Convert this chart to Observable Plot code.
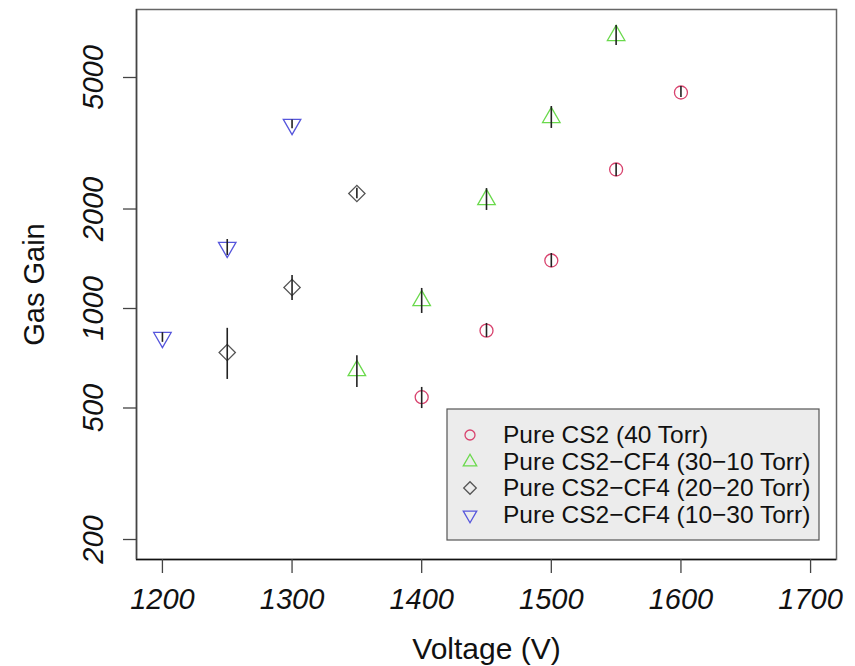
<!DOCTYPE html>
<html>
<head>
<meta charset="utf-8">
<script src="https://cdn.jsdelivr.net/npm/d3@7"></script>
<script src="https://cdn.jsdelivr.net/npm/@observablehq/plot@0.6"></script>
<style>
  body { margin: 0; background: #fff; }
  #chart { width: 855px; height: 666px; }
</style>
</head>
<body>
<div id="chart"></div>
<script>
// ---- data ----
const seriesNames = [
  "Pure CS2 (40 Torr)",
  "Pure CS2\u2212CF4 (30\u221210 Torr)",
  "Pure CS2\u2212CF4 (20\u221220 Torr)",
  "Pure CS2\u2212CF4 (10\u221230 Torr)"
];
const seriesColors = ["#d8436e", "#6ad94c", "#555555", "#5656dc"];
const seriesSymbols = ["circle", "triangle", "square", "triangle"];
const seriesRotate = [0, 0, 45, 180];

const cs2Voltage = [1400, 1450, 1500, 1550, 1600];
const cs2Gain    = [539, 857, 1397, 2634, 4504];
const cs2Low     = [498, 817, 1331, 2508, 4349];
const cs2High    = [577, 901, 1467, 2747, 4697];

const mix3010Voltage = [1350, 1400, 1450, 1500, 1550];
const mix3010Gain    = [649, 1057, 2137, 3784, 6700];
const mix3010Low     = [577, 966, 1980, 3506, 6249];
const mix3010High    = [720, 1150, 2306, 4085, 7183];

const mix2020Voltage = [1250, 1300, 1350];
const mix2020Gain    = [736, 1158, 2229];
const mix2020Low     = [610, 1057, 2150];
const mix2020High    = [871, 1259, 2310];

const mix1030Voltage = [1200, 1250, 1300];
const mix1030Gain    = [817, 1530, 3604];
const mix1030Low     = [790, 1446, 3500];
const mix1030High    = [845, 1617, 3720];

const xTicks = [1200, 1300, 1400, 1500, 1600, 1700];
const yTicks = [200, 500, 1000, 2000, 5000];

// ---- build table ----
const groups = [
  [cs2Voltage, cs2Gain, cs2Low, cs2High],
  [mix3010Voltage, mix3010Gain, mix3010Low, mix3010High],
  [mix2020Voltage, mix2020Gain, mix2020Low, mix2020High],
  [mix1030Voltage, mix1030Gain, mix1030Low, mix1030High]
];
const rows = [];
groups.forEach(([v, g, lo, hi], si) => {
  v.forEach((vv, i) => rows.push({series: seriesNames[si], si, v: vv, g: g[i], lo: lo[i], hi: hi[i]}));
});

const FONT = "'Liberation Sans', Arial, Helvetica, sans-serif";

const plot = Plot.plot({
  width: 855,
  height: 666,
  marginLeft: 136,
  marginRight: 19,
  marginTop: 9,
  marginBottom: 107,
  style: {fontFamily: FONT, background: "#fff", color: "#111"},
  x: {domain: [1180, 1720]},
  y: {type: "log", domain: [174, 8030]},
  color: {domain: seriesNames, range: seriesColors},
  symbol: {domain: seriesNames, range: seriesSymbols},
  marks: [
    Plot.frame({stroke: "#666", strokeWidth: 1.5}),
    Plot.ruleY([174], {stroke: "#111", strokeWidth: 1.5}),
    Plot.ruleX([1180], {stroke: "#444", strokeWidth: 1.5}),
    Plot.axisX({ticks: xTicks, tickSize: 14, tickPadding: 15, fontSize: 29, fontStyle: "italic",
                tickFormat: d => String(d), label: null, stroke: "#444", strokeWidth: 1.3}),
    Plot.axisY({ticks: yTicks, tickSize: 13, tickPadding: 21, tickRotate: -90, fontSize: 29, fontStyle: "italic",
                tickFormat: d => String(d), label: null, stroke: "#444", strokeWidth: 1.3}),
    Plot.text(["Voltage (V)"], {text: d => d, frameAnchor: "bottom", dy: 99, lineAnchor: "bottom",
                                textAnchor: "middle", fontSize: 30, fill: "#111"}),
    Plot.text(["Gas Gain"], {text: d => d, frameAnchor: "left", dx: -93, rotate: -90, lineAnchor: "bottom",
                             textAnchor: "middle", fontSize: 29, fill: "#111"}),
    Plot.dot(rows, {x: "v", y: "g", symbol: "series", stroke: "series", fill: "none", r: 6.5, strokeWidth: 1.3,
                    rotate: d => seriesRotate[d.si]}),
    Plot.ruleX(rows, {x: "v", y1: "lo", y2: "hi", stroke: "#222", strokeWidth: 1.6})
  ]
});

document.getElementById("chart").appendChild(plot);

// ---- legend (inside plot area, bottom right) ----
const svg = d3.select(plot);
const lg = svg.append("g").attr("text-anchor", "start");
lg.append("rect").attr("x", 447).attr("y", 409).attr("width", 372).attr("height", 131)
  .attr("fill", "#ececec").attr("stroke", "#555").attr("stroke-width", 1.2);
const rowY = [435, 462, 488, 515];
const symMap = {circle: d3.symbolCircle, triangle: d3.symbolTriangle, square: d3.symbolSquare};
seriesNames.forEach((name, i) => {
  const cy = rowY[i];
  lg.append("path")
    .attr("d", d3.symbol(symMap[seriesSymbols[i]], Math.PI * 5 * 5)())
    .attr("transform", `translate(470,${cy}) rotate(${seriesRotate[i]})`)
    .attr("fill", "none").attr("stroke", seriesColors[i]).attr("stroke-width", 1.3);
  lg.append("text").attr("x", 503).attr("y", cy + 8)
    .attr("text-anchor", "start")
    .attr("font-family", FONT).attr("font-size", 24.5).attr("fill", "#111")
    .text(name);
});
</script>
</body>
</html>
